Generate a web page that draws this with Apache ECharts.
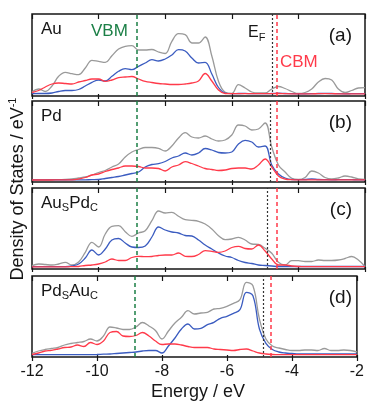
<!DOCTYPE html>
<html><head><meta charset="utf-8">
<script src="https://cdn.jsdelivr.net/npm/echarts@6/dist/echarts.min.js"></script>
<style>html,body{margin:0;padding:0;background:#fff}#c{width:367px;height:401px}</style>
</head><body><div id="c"></div>
<script>
// Energy grid (eV)
const energy = [-12,-11.8,-11.6,-11.4,-11.2,-11,-10.8,-10.6,-10.4,-10.2,-10,-9.8,-9.6,-9.4,-9.2,-9,-8.8,-8.6,-8.4,-8.2,-8,-7.8,-7.6,-7.4,-7.2,-7,-6.8,-6.6,-6.4,-6.2,-6,-5.8,-5.6,-5.4,-5.2,-5,-4.8,-4.6,-4.4,-4.2,-4,-3.8,-3.6,-3.4,-3.2,-3,-2.8,-2.6,-2.4,-2.2,-2];
const xTicks = [-12,-10,-8,-6,-4,-2];

// (a) Au
const auTotal = [2.3,5,2.5,8,17.7,21.7,20.3,19.3,26,33.7,32.7,31.7,38.3,45,47.7,48.3,44,44,44.5,42,40.5,52.7,60.3,59.3,51,51,57,38,12.7,1.7,0.5,9.3,6,2,1,1,5,7.5,5.5,2.5,0.5,1.5,5,12,15.5,14,5,1.5,3.5,6,6.3];
const auBlue  = [0.3,0.5,0.5,1,2.5,3.5,3.5,4.5,8,11.7,14,13,17.7,22.7,25.3,24.3,27.7,31,34.3,33,35,39,44.3,43,36,31,31.7,20,6.5,1,0.3,0.5,0.6,0.3,0.3,0.3,0.5,0.8,0.5,0.3,0.2,0.2,0.3,0.5,0.6,0.5,0.3,0.2,0.3,0.4,0.4];
const auRed   = [1.5,3.5,7,10,11,10.5,10,12,13.5,15,15,12.7,14,16.3,17,17.5,15,12.7,11.5,10.5,10,9.5,9.5,10,11,13,20.5,13,4,0.5,0.3,0.3,0.3,0.3,0.3,0.3,0.4,0.5,0.3,0.2,0.2,0.2,0.2,0.3,0.3,0.3,0.2,0.2,0.2,0.2,0.2];

// (b) Pd
const pdTotal = [0.2,0.2,0.2,0.3,0.3,0.5,1,2,3,5,7.5,9.5,13,16,23,28,30.5,32.5,32.5,31.7,29,34,42,47.3,43,42,44,41,39,40,45,55,54,50,51,57,33,15,8,1.7,0.5,2.5,9,7,2.5,1,2,4,3,1,0.5];
const pdBlue  = [0.1,0.1,0.1,0.1,0.1,0.1,0.1,0.1,0.2,0.3,0.5,1.5,2.5,3.5,5,6.5,8,13,15.5,16.3,18.5,22,24,27,25,27,31.5,30,27.5,27,28,36,39.7,38,33,34,15,6,2,0.5,0.3,0.5,1,0.5,0.3,0.2,0.3,0.4,0.3,0.2,0.2];
const pdRed   = [0,0,0,0,0.1,0.1,0.2,1,2.5,5,6,8.5,10.5,12,14,14,13.5,12,12,11.5,9,13,15,18.3,16.5,14,11.5,10.5,9.5,10,11.5,12,12,11,15,21,13,4,1,0.3,0.1,0.1,0.1,0.1,0.1,0.1,0.1,0.1,0.1,0.1,0.1];

// (c) AuSPdC
const ausTotal = [1.3,3,2.5,2,3,4.7,2,5,14.7,24.7,20,33,40.7,41.3,35.3,30.7,34,36.3,46.3,56,54,54.7,50.7,47.3,46.7,45.7,43,38,31.3,27.3,28,29.7,27,23,22.5,18.7,13.7,4.7,2,6.3,6.3,5.5,5.5,7,6.5,6.5,7,8.5,10.5,7,0.5];
const ausBlue  = [0.3,0.3,0.3,0.3,0.3,0.3,1,3,9,17,12,18,27,28.5,24,20,19.5,21,30,40,37,35,34,31.5,31,27,22,18,14,11,9.5,6.5,4.5,3.5,2,1.5,1,0.5,0.5,0.5,0.5,0.5,0.5,0.5,0.5,0.5,0.5,0.5,0.5,0.5,0.5];
const ausRed   = [0.2,0.2,0.2,0.2,0.2,0.2,0.3,0.5,1.5,2,3,5,8,6.5,6.5,9.5,10.7,10.3,10.5,11.5,12,12,14,10.7,10.5,12.5,16.3,15.7,14.7,16,19.5,20.7,18.5,18,22,16,8,2,2,1,0.5,0.3,0.3,0.3,0.3,0.3,0.3,0.3,0.3,0.3,0.3];

// (d) PdSAuC
const pdsTotal = [1.7,4,5.5,6.5,7.5,10,11.5,12.5,13.5,16,14,19,28,27,25.5,25.5,28,32.5,29,24.5,16,24,32,37.7,44.3,41,42,42.7,46,46.7,48.7,51.7,55.3,72.7,69.3,36,16,9,7,5.5,4.5,4.5,5,5,4.5,6.5,4.5,4.5,5,4.5,3];
const pdsBlue  = [0.3,0.3,0.3,0.3,0.3,0.3,0.3,0.3,0.3,0.3,0.5,0.8,1,1.5,2,2.5,3,4,4.5,4.5,2,9,17,26,31,26,26.7,30.3,32.7,36.7,38.7,41.7,45.3,62.7,59.3,26,11.7,5.5,3,2,1.5,1,1,1,1,1,1,1,1,1,1];
const pdsRed   = [0.5,2,4,4.7,6,7.5,8,10,8.5,12.5,10.5,14,22.5,23.5,19,18.5,19.5,22.5,19,14,10.5,11,11,10,8.5,7.5,7.5,7.5,6,5.5,5,4.5,5.5,6,4,2,1,0.5,0.3,0.3,0.3,0.3,0.3,0.3,0.3,0.3,0.3,0.3,0.3,0.3,0.3];

// reference energies
const VBM = -8.85;
const CBM = -4.65;
const EF  = [-4.8, -4.85, -4.93, -4.88];

const FONT = '"Liberation Sans", Arial, sans-serif';
const GRAY = '#9a9a9a', BLUE = '#3b5cc0', RED = '#ff3a4a', GREEN = '#1b7f46', INK = '#161616';

const panels = [
  {total: auTotal,  blue: auBlue,  red: auRed,  top: 14,  h: 82},
  {total: pdTotal,  blue: pdBlue,  red: pdRed,  top: 101, h: 81},
  {total: ausTotal, blue: ausBlue, red: ausRed, top: 188, h: 81},
  {total: pdsTotal, blue: pdsBlue, red: pdsRed, top: 276, h: 81}
];

const grid = [], xAxis = [], yAxis = [], series = [];
const pairs = arr => energy.map((e, j) => [e, arr[j]]);

panels.forEach((p, i) => {
  grid.push({left: 32, right: 2, top: p.top, height: p.h, show: true,
    borderColor: INK, borderWidth: 1.5, backgroundColor: 'transparent'});
  xAxis.push({gridIndex: i, type: 'value', min: -12, max: -2, interval: 2, position: 'bottom',
    axisLine: {show: false}, splitLine: {show: false},
    axisTick: {show: true, inside: false, length: i === 3 ? 6 : 5, lineStyle: {color: INK, width: 1.2}},
    axisLabel: {show: i === 3, fontSize: 16, color: INK, margin: 7, fontFamily: FONT,
      formatter: v => xTicks.indexOf(v) >= 0 ? String(v) : ''}});
  xAxis.push({gridIndex: i, type: 'value', min: -12, max: -2, interval: 2, position: 'top',
    axisLine: {show: false}, splitLine: {show: false},
    axisTick: {show: true, inside: true, length: 5, lineStyle: {color: INK, width: 1.2}},
    axisLabel: {show: false}});
  yAxis.push({gridIndex: i, type: 'value', min: -2, max: p.h - 2, show: false});
  const base = {type: 'line', xAxisIndex: 2 * i, yAxisIndex: i, smooth: 0.4, showSymbol: false,
    symbol: 'none', clip: true, silent: true};
  series.push(Object.assign({}, base, {name: 'total' + i, data: pairs(p.total),
    lineStyle: {color: GRAY, width: 1.3},
    markLine: {silent: true, symbol: ['none', 'none'], animation: false, label: {show: false},
      emphasis: {disabled: true},
      data: [
        {xAxis: VBM, lineStyle: {color: GREEN, type: [4, 3], width: 1.5}},
        {xAxis: EF[i], lineStyle: {color: '#333', type: [2, 2], width: 1.2}},
        {xAxis: CBM, lineStyle: {color: RED, type: [4, 3], width: 1.5}}
      ]}}));
  series.push(Object.assign({}, base, {name: 'blue' + i, data: pairs(p.blue),
    lineStyle: {color: BLUE, width: 1.3}}));
  series.push(Object.assign({}, base, {name: 'red' + i, data: pairs(p.red),
    lineStyle: {color: RED, width: 1.3}}));
});

function txt(x, y, text, size, color, align, extra) {
  return Object.assign({type: 'text', x: x, y: y, silent: true,
    style: {text: text, fontSize: size, fontFamily: FONT, fill: color,
      align: align || 'left', verticalAlign: 'middle'}}, extra || {});
}
function subTxt(x, y, text, size) {
  return {type: 'text', x: x, y: y - size / 2, silent: true,
    style: {text: text, fontFamily: FONT, fill: INK, align: 'left', verticalAlign: 'top',
      rich: {
        n: {fontSize: size, fontFamily: FONT, fill: INK, lineHeight: size, verticalAlign: 'top'},
        s: {fontSize: 11, fontFamily: FONT, fill: INK, lineHeight: 11, padding: [10, 0, 0, 0]}
      }}};
}

const graphic = [
  txt(41, 29, 'Au', 17, INK),
  txt(41, 116, 'Pd', 17, INK),
  subTxt(41, 203, '{n|Au}{s|S}{n|Pd}{s|C}', 17),
  subTxt(41, 291, '{n|Pd}{s|S}{n|Au}{s|C}', 17),
  txt(352, 36, '(a)', 19, INK, 'right'),
  txt(352, 123, '(b)', 19, INK, 'right'),
  txt(352, 210, '(c)', 19, INK, 'right'),
  txt(352, 298, '(d)', 19, INK, 'right'),
  txt(91, 31.5, 'VBM', 17, GREEN),
  txt(280, 62.5, 'CBM', 17, RED),
  subTxt(248, 32.5, '{n|E}{s|F}', 16),
  {type: 'text', x: 18, y: 189, rotation: Math.PI / 2, silent: true,
    style: {text: '{t|Density of States / eV}{p|-1}', align: 'center', verticalAlign: 'middle',
      fontFamily: FONT, fill: INK,
      rich: {
        t: {fontSize: 18, fontFamily: FONT, fill: INK, lineHeight: 18, verticalAlign: 'bottom'},
        p: {fontSize: 11, fontFamily: FONT, fill: INK, lineHeight: 11, padding: [0, 0, 10, 0]}
      }}},
  txt(198, 392, 'Energy / eV', 18, INK, 'center')
];

const chart = echarts.init(document.getElementById('c'), null, {renderer: 'canvas'});
chart.setOption({animation: false, backgroundColor: '#fff', grid, xAxis, yAxis, series, graphic});
</script>
</body></html>
